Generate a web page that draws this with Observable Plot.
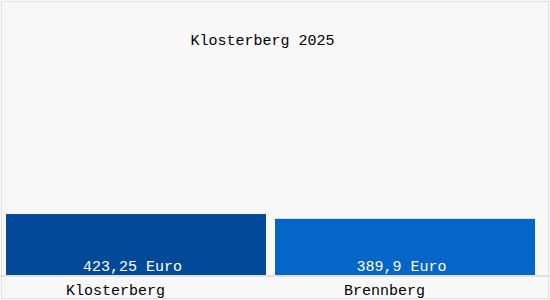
<!DOCTYPE html>
<html>
<head>
<meta charset="utf-8">
<script src="https://cdn.jsdelivr.net/npm/d3@7"></script>
<script src="https://cdn.jsdelivr.net/npm/@observablehq/plot@0.6"></script>
<style>
  html, body { margin: 0; padding: 0; background: #f8f8f8; }
  #chart svg { display: block; background: #f8f8f8; outline: 1px solid #e2e2e2; outline-offset: -2px; }
</style>
</head>
<body>
<div id="chart"></div>
<script>
const title = "Klosterberg 2025";
const categories = ["Klosterberg", "Brennberg"];
const values = [423.25, 389.9];
const valueLabels = ["423,25 Euro", "389,9 Euro"];
const colors = ["#02499a", "#0565c8"];

const data = categories.map((c, i) => ({cat: c, value: values[i], label: valueLabels[i], color: colors[i]}));

const chart = Plot.plot({
  width: 550,
  height: 300,
  marginTop: 10,
  marginBottom: 25,
  marginLeft: 0,
  marginRight: 0,
  style: {fontFamily: "'Liberation Mono', 'DejaVu Sans Mono', monospace", fontSize: "15px", background: "#f8f8f8", color: "#000"},
  x: {domain: categories, range: [6, 535], paddingInner: 0.0335, paddingOuter: 0, label: null, axis: null},
  y: {domain: [0, 1840], axis: null},
  marks: [
    Plot.barY(data, {x: "cat", y: "value", fill: "color"}),
    Plot.ruleY([0], {stroke: "#c8c8c8", strokeWidth: 1, dy: 0.5}),
    Plot.text(data, {x: "cat", y: 0, text: "label", fill: "white", dy: -9, dx: -4, fontSize: 15}),
    Plot.axisX({tickSize: 0, tickPadding: 9, dx: -21, fontSize: 15, fill: "#000", label: null}),
    Plot.text([title], {frameAnchor: "top", dx: -13, dy: 24, fontSize: 15, fill: "#000"})
  ]
});
document.getElementById("chart").appendChild(chart);
</script>
</body>
</html>
